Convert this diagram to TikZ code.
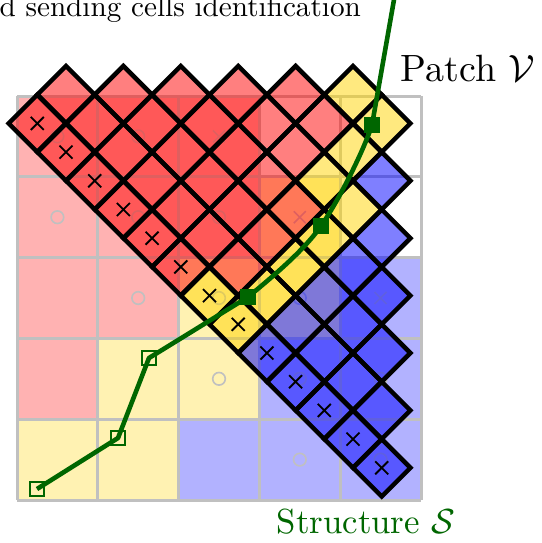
\documentclass[tikz,border=0pt]{standalone}
\usepackage{tikz}
\definecolor{gold}{RGB}{255,212,0}
\definecolor{dgreen}{RGB}{0,102,0}
\definecolor{gridgray}{RGB}{192,192,192}
\tikzset{
  gridline/.style={gridgray, line width=3pt},
  cellmark/.style={gridgray, line width=1.6pt},
  tilefill/.style={fill=#1, fill opacity=0.5},
  tileedge/.style={draw=black, line width=4.5pt},
  tilecross/.style={black, line width=1.9pt},
  greenline/.style={dgreen, line width=4.6pt, line join=round},
  hollowsq/.style={draw=dgreen, line width=2.2pt, minimum size=13.5pt, inner sep=0pt, shape=rectangle},
  fullsq/.style={fill=dgreen, minimum size=15.5pt, inner sep=0pt, shape=rectangle},
  lbl/.style={inner sep=0pt, anchor=base west}
}
\begin{document}
\begin{tikzpicture}[x=1pt,y=-1pt]
\useasboundingbox (0,0) rectangle (541,543);
% background structure cells
\foreach \r/\c/\cl in {0/0/red!30,0/1/red!30,0/2/red!30,
  1/0/red!30,1/1/red!30,1/2/red!30,1/3/gold!30,
  2/0/red!30,2/1/red!30,2/2/gold!30,2/3/gold!30,2/4/blue!30,
  3/0/red!30,3/1/gold!30,3/2/gold!30,3/3/blue!30,3/4/blue!30,
  4/0/gold!30,4/1/gold!30,4/2/blue!30,4/3/blue!30,4/4/blue!30}
  \fill[\cl] ({17+\c*80.8},{96+\r*80.8}) rectangle ++(80.8,80.8);
\foreach \i in {0,...,5} {
  \draw[gridline] ({17+\i*80.8},96) -- ({17+\i*80.8},500);
  \draw[gridline] (17,{96+\i*80.8}) -- (421,{96+\i*80.8});
}
% cell marks
\foreach \r/\c in {0/0,0/1,1/0,1/1,1/2,2/1,2/2,2/3,3/2,3/3,3/4,4/3,4/4}
  \draw[cellmark] ({57.4+\c*80.8},{136.4+\r*80.8}) circle (6.3);
\foreach \r/\c in {0/2,1/3,2/4}
  \draw[cellmark] ({57.4+\c*80.8-6},{136.4+\r*80.8-6}) -- ++(12,12)
                  ({57.4+\c*80.8-6},{136.4+\r*80.8+6}) -- ++(12,-12);
% patch tiles
\def\tiles{0/0/red,1/0/red,2/0/red,3/0/red,4/0/red,5/0/red,6/0/gold,7/0/gold,8/0/blue,9/0/blue,10/0/blue,11/0/blue,12/0/blue,
0/1/red,1/1/red,2/1/red,3/1/red,4/1/red,5/1/red,6/1/red,7/1/gold,8/1/blue,9/1/blue,10/1/blue,11/1/blue,
1/2/red,2/2/red,3/2/red,4/2/red,5/2/red,6/2/red,7/2/gold,8/2/blue,9/2/blue,10/2/blue,
2/3/red,3/3/red,4/3/red,5/3/red,6/3/red,7/3/gold,8/3/blue,9/3/blue,
3/4/red,4/4/red,5/4/red,6/4/gold,7/4/gold,8/4/blue,
4/5/red,5/5/red,6/5/gold,7/5/blue,
5/6/gold,6/6/gold}
\foreach \p/\q/\cl in \tiles
  \path[tilefill=\cl] ({37.3+28.7*(\p+\q)-28.7},{123.4+28.7*(\p-\q)}) -- ++(28.7,-28.7) -- ++(28.7,28.7) -- ++(-28.7,28.7) -- cycle;
\foreach \p/\q/\cl in \tiles
  \draw[tileedge] ({37.3+28.7*(\p+\q)-28.7},{123.4+28.7*(\p-\q)}) -- ++(28.7,-28.7) -- ++(28.7,28.7) -- ++(-28.7,28.7) -- cycle;
\foreach \p in {0,...,12}
  \draw[tilecross] ({37.3+28.7*\p-6.5},{123.4+28.7*\p-6.5}) -- ++(13,13)
                   ({37.3+28.7*\p-6.5},{123.4+28.7*\p+6.5}) -- ++(13,-13);
% interface curve
\coordinate (h1) at (37,489);
\coordinate (h2) at (118,438);
\coordinate (h3) at (149,358);
\coordinate (f1) at (248,297);
\coordinate (f2) at (321,226);
\coordinate (f3) at (372,125);
\coordinate (ftop) at (395,-6);
\draw[greenline] (h1) -- (h2) -- (h3) -- (f1)
  .. controls (276,274) and (305,249) .. (f2)
  .. controls (337,203) and (362,155) .. (f3) -- (ftop);
\node[hollowsq] (n1) at (h1) {};
\node[hollowsq] (n2) at (h2) {};
\node[hollowsq] (n3) at (h3) {};
\node[fullsq] (m1) at (f1) {};
\node[fullsq] (m2) at (f2) {};
\node[fullsq] (m3) at (f3) {};
% labels
\node[lbl, scale=2.92] (title) at (-1,16.6) {d sending cells identification};
\node[lbl, scale=3.8] (patch) at (400,81.3) {Patch $\mathcal{V}$};
\node[lbl, scale=3.48, text=dgreen] (struct) at (276,533) {Structure $\mathcal{S}$};
\end{tikzpicture}
\end{document}
